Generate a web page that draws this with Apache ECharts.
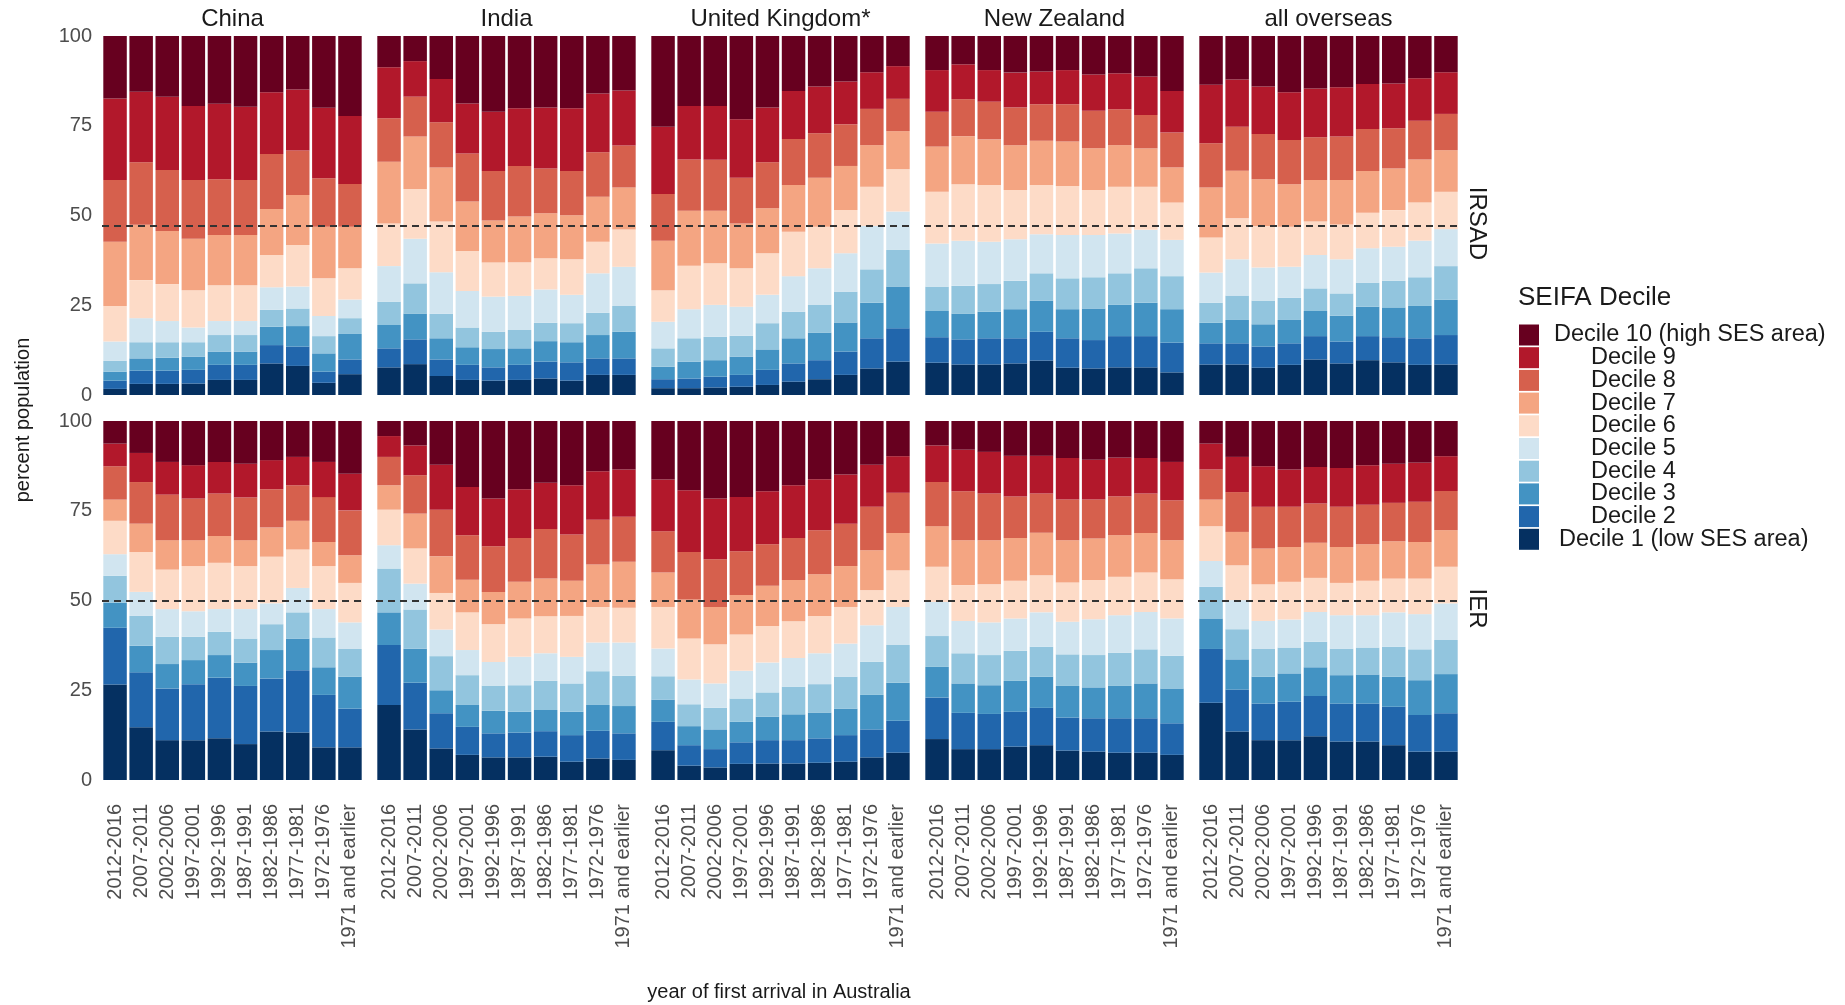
<!DOCTYPE html>
<html>
<head>
<meta charset="utf-8">
<script src="https://cdn.jsdelivr.net/npm/echarts@6/dist/echarts.min.js"></script>
<style>html,body{margin:0;padding:0;background:#fff;}#chart{width:1845px;height:1005px;}</style>
</head>
<body>
<div id="chart"></div>
<script>
// ---------- data (percent of population per SEIFA decile, columns = Decile 1..Decile 10) ----------
const categories = ['2012-2016','2007-2011','2002-2006','1997-2001','1992-1996','1987-1991','1982-1986','1977-1981','1972-1976','1971 and earlier'];
const countries = ['China','India','United Kingdom*','New Zealand','all overseas'];
const indexNames = ['IRSAD','IER'];
const deciles = ['Decile 1 (low SES area)','Decile 2','Decile 3','Decile 4','Decile 5','Decile 6','Decile 7','Decile 8','Decile 9','Decile 10 (high SES area)'];
const decileColors = ['#053061','#2166AC','#4393C3','#92C5DE','#D1E5F0','#FDDBC7','#F4A582','#D6604D','#B2182B','#67001F'];
const yTicks = [0, 25, 50, 75, 100];
const refLines = [47.2, 50]; // dashed reference line for IRSAD, IER

const IRSAD_China = [
 [1.7,2.3,2.5,3.0,5.4,9.9,17.9,17.2,22.7,17.4],
 [3.1,3.7,3.4,4.5,6.7,10.6,15.4,17.4,19.7,15.5],
 [3.1,3.7,3.6,4.3,5.9,10.3,14.8,17.0,20.4,16.9],
 [3.2,3.8,3.7,4.0,4.1,10.4,14.3,16.4,20.6,19.5],
 [4.2,4.2,3.7,4.6,3.9,10.0,14.0,15.5,21.0,18.9],
 [4.2,4.2,3.7,4.6,3.9,10.0,14.0,15.3,20.4,19.7],
 [8.8,5.1,5.1,4.7,6.3,9.0,12.8,15.3,17.2,15.7],
 [8.1,5.4,5.7,4.9,6.1,11.6,13.9,12.4,17.0,14.9],
 [3.4,3.1,5.1,4.8,5.6,10.5,14.4,13.5,19.6,20.0],
 [5.8,4.1,7.1,4.4,5.2,8.7,11.6,11.9,18.9,22.3]
];
const IRSAD_India = [
 [7.7,5.3,6.5,6.5,9.9,11.9,17.2,12.1,14.2,8.7],
 [8.6,6.9,7.2,8.4,12.4,13.9,14.6,11.1,9.9,7.0],
 [5.3,4.6,5.9,6.8,11.6,14.1,15.1,12.6,12.0,12.0],
 [4.2,4.2,4.9,5.5,10.2,11.1,13.8,13.4,13.9,18.8],
 [4.0,3.7,5.1,4.8,9.8,9.5,11.7,13.8,16.5,21.1],
 [4.2,4.2,4.6,5.1,9.5,9.4,12.7,14.1,16.1,20.1],
 [4.6,4.7,5.7,5.1,9.3,8.7,12.5,12.5,17.0,19.9],
 [4.0,5.1,5.6,5.3,7.9,9.9,12.3,12.3,17.5,20.1],
 [5.6,4.6,6.5,6.2,11.0,8.8,12.5,12.4,16.4,16.0],
 [5.6,4.6,7.4,7.2,10.9,10.4,11.7,11.7,15.3,15.2]
];
const IRSAD_UK = [
 [1.9,2.5,3.5,5.1,7.4,8.8,13.8,13.0,18.7,25.3],
 [1.9,2.7,4.7,6.5,8.1,12.1,15.3,14.3,14.9,19.5],
 [2.1,3.0,4.6,6.5,8.9,11.6,14.6,14.2,15.0,19.5],
 [2.3,3.3,5.1,5.8,8.1,10.7,12.5,12.7,16.3,23.2],
 [2.8,4.2,5.7,7.3,7.9,11.6,12.5,12.8,15.3,19.9],
 [3.7,5.1,7.0,7.4,9.9,12.4,13.0,12.8,13.4,15.3],
 [4.4,5.3,7.7,7.7,10.2,11.6,13.6,12.4,13.0,14.1],
 [5.6,6.5,8.1,8.6,10.7,12.0,12.3,11.6,11.9,12.7],
 [7.4,8.4,9.9,9.3,12.1,10.9,11.6,10.1,10.2,10.1],
 [9.3,9.3,11.6,10.2,10.7,11.8,10.6,9.0,9.1,8.4]
];
const IRSAD_NZ = [
 [9.0,7.1,7.3,6.8,12.0,14.4,12.6,9.7,11.6,9.5],
 [8.5,7.0,7.2,7.7,12.6,15.7,13.4,10.3,9.7,7.9],
 [8.5,7.3,7.4,7.7,11.8,15.8,12.7,10.5,8.8,9.5],
 [8.8,7.0,8.1,7.9,11.6,13.7,12.5,10.5,9.7,10.2],
 [9.6,8.0,8.7,7.6,10.9,13.7,12.3,10.2,9.1,9.9],
 [7.6,8.2,8.1,8.6,12.1,13.6,12.4,10.4,9.5,9.5],
 [7.4,7.9,8.8,8.7,11.8,12.5,11.6,10.5,10.1,10.7],
 [7.7,8.7,8.7,8.8,11.1,13.0,11.6,10.0,10.0,10.4],
 [7.7,8.7,9.3,9.6,10.7,12.0,10.7,9.3,10.7,11.3],
 [6.3,8.3,9.3,9.2,10.1,10.4,9.8,9.7,11.6,15.3]
];
const IRSAD_All = [
 [8.5,5.9,5.7,5.6,8.4,9.8,13.9,12.3,16.3,13.6],
 [8.5,5.9,6.5,6.8,10.1,11.4,13.3,12.2,13.2,12.1],
 [7.6,5.9,6.2,6.6,9.2,11.6,13.0,12.6,13.2,14.1],
 [8.4,6.0,6.5,6.2,8.6,11.2,11.8,12.3,13.3,15.7],
 [9.9,6.5,7.0,6.3,9.3,9.3,11.6,11.9,13.6,14.6],
 [8.8,6.1,7.2,6.2,9.5,9.7,12.4,12.1,13.7,14.3],
 [9.7,6.7,8.2,6.7,9.6,9.9,11.6,11.7,12.5,13.4],
 [9.1,7.0,8.3,7.4,9.5,10.2,11.6,11.2,12.5,13.2],
 [8.4,7.4,9.0,8.0,10.2,10.6,12.0,10.8,11.8,11.8],
 [8.5,8.2,9.8,9.4,10.3,10.4,11.6,10.1,11.6,10.1]
];
const IER_China = [
 [26.6,15.8,7.0,7.5,6.0,9.3,5.9,9.3,6.3,6.3],
 [14.7,15.3,7.4,8.3,6.7,11.1,7.9,11.6,8.1,8.9],
 [11.1,14.4,6.8,7.6,7.7,11.0,8.2,12.7,9.1,11.4],
 [11.1,15.6,6.7,6.5,7.1,12.6,7.2,11.6,9.3,12.3],
 [11.6,16.9,6.3,6.5,6.3,12.9,7.5,11.8,8.8,11.4],
 [10.0,16.2,6.5,6.7,8.2,12.0,7.2,11.9,9.4,11.9],
 [13.5,14.8,7.9,7.2,5.8,13.0,8.1,10.7,8.1,10.9],
 [13.2,17.4,8.8,7.3,6.8,10.7,8.0,9.9,7.9,10.0],
 [9.1,14.6,7.7,8.3,7.9,12.0,6.7,12.5,9.8,11.4],
 [9.1,10.8,8.9,7.7,7.4,11.0,7.7,12.5,10.2,14.7]
];
const IER_India = [
 [20.9,16.7,9.1,12.2,6.5,9.9,6.8,7.9,5.8,4.2],
 [14.1,13.0,9.5,10.9,7.2,9.8,9.7,10.7,8.3,6.8],
 [8.8,9.8,6.4,9.5,7.4,10.2,10.2,13.0,12.5,12.2],
 [7.0,7.8,6.1,8.3,7.0,10.5,9.1,12.4,13.4,18.4],
 [6.3,6.7,6.3,7.0,6.6,10.5,9.0,12.7,13.3,21.6],
 [6.3,6.9,5.8,7.4,7.9,10.7,10.2,12.2,13.6,19.0],
 [6.5,7.1,5.9,8.1,7.7,10.3,10.5,13.8,12.9,17.2],
 [5.1,7.4,6.5,7.9,7.4,11.4,9.8,12.9,13.7,17.9],
 [6.0,7.7,7.2,9.4,8.0,9.9,11.8,12.5,13.5,14.0],
 [5.6,7.4,7.6,8.4,9.3,9.7,12.8,12.5,13.2,13.5]
];
const IER_UK = [
 [8.3,7.9,6.2,6.5,7.7,11.6,9.6,11.5,14.4,16.3],
 [4.0,5.7,5.3,6.1,6.9,11.4,10.9,13.2,17.2,19.3],
 [3.5,5.1,5.5,6.0,6.8,10.9,10.4,13.3,16.9,21.6],
 [4.5,6.0,5.7,6.5,7.7,10.1,11.0,12.2,15.1,21.2],
 [4.6,6.5,6.5,6.8,8.3,10.2,11.2,11.6,14.7,19.6],
 [4.6,6.5,7.2,7.7,8.0,10.2,11.5,11.7,14.7,17.9],
 [4.8,6.8,7.2,7.9,8.6,10.4,11.6,12.3,14.2,16.2],
 [5.1,7.4,7.4,8.9,9.2,10.2,11.4,11.8,13.7,14.9],
 [6.3,7.8,9.6,9.2,10.2,9.8,11.1,12.1,11.7,12.2],
 [7.6,8.9,10.6,10.5,10.6,10.2,10.4,11.2,10.2,9.8]
];
const IER_NZ = [
 [11.4,11.6,8.5,8.6,9.5,9.8,11.3,12.3,10.2,6.8],
 [8.6,10.1,8.2,8.4,9.0,10.0,12.5,13.6,11.6,8.0],
 [8.6,9.8,8.0,8.4,9.1,10.6,12.3,13.0,11.6,8.6],
 [9.3,9.7,8.6,8.4,9.0,10.5,11.9,11.6,11.3,9.7],
 [9.7,10.4,8.7,8.3,9.6,10.3,11.9,10.9,10.5,9.7],
 [8.2,9.2,8.8,8.8,9.1,10.9,11.8,11.3,11.6,10.3],
 [7.9,9.3,8.6,9.0,10.0,10.9,11.6,10.8,11.1,10.8],
 [7.6,9.6,9.0,9.2,10.5,10.7,11.6,10.8,10.8,10.2],
 [7.6,9.6,9.7,9.5,10.4,11.0,11.0,11.0,9.9,10.3],
 [7.0,8.8,9.7,9.1,10.4,10.9,10.9,11.1,10.7,11.4]
];
const IER_All = [
 [21.5,15.0,8.5,8.8,7.2,9.7,7.4,8.4,7.2,6.3],
 [13.5,11.7,8.4,8.4,8.1,9.7,9.3,11.1,9.8,10.0],
 [11.1,10.2,7.5,7.7,7.8,10.2,10.0,11.6,11.3,12.6],
 [11.1,10.7,7.9,7.2,7.8,10.5,9.7,11.2,10.4,13.5],
 [12.2,11.2,8.0,7.1,8.3,9.5,9.8,10.9,10.2,12.8],
 [10.7,10.6,7.9,7.4,9.3,9.0,10.0,11.2,10.8,13.1],
 [10.7,10.6,8.1,7.5,9.0,9.6,10.2,11.0,11.0,12.3],
 [9.7,10.7,8.4,8.3,9.6,9.4,10.4,10.7,10.9,11.9],
 [7.9,10.2,9.7,8.6,9.8,9.9,10.2,11.2,10.9,11.6],
 [7.9,10.7,10.9,9.5,10.2,10.2,10.2,10.9,9.7,9.8]
];

const panels = [
  [IRSAD_China, IRSAD_India, IRSAD_UK, IRSAD_NZ, IRSAD_All],
  [IER_China, IER_India, IER_UK, IER_NZ, IER_All]
];

// ---------- layout ----------
const FONT = "'Liberation Sans', Arial, sans-serif";
const GRID_LEFT0 = 102, GRID_STEP = 274, GRID_W = 261, GRID_H = 359;
const GRID_TOPS = [36, 421];

const grids = [], xAxes = [], yAxes = [], series = [];
let g = 0;
for (let r = 0; r < 2; r++) {
  for (let c = 0; c < 5; c++) {
    grids.push({ left: GRID_LEFT0 + c * GRID_STEP, top: GRID_TOPS[r], width: GRID_W, height: GRID_H, containLabel: false });
    xAxes.push({
      type: 'category', gridIndex: g, data: categories,
      axisLine: { show: false }, axisTick: { show: false },
      axisLabel: { show: r === 1, rotate: 90, interval: 0, margin: 24, fontSize: 20, color: '#4d4d4d', fontFamily: FONT },
      splitLine: { show: false }
    });
    yAxes.push({
      type: 'value', gridIndex: g, min: yTicks[0], max: yTicks[yTicks.length - 1], interval: 25,
      axisLine: { show: false }, axisTick: { show: false },
      axisLabel: { show: c === 0, margin: 10, fontSize: 20, color: '#4d4d4d', fontFamily: FONT },
      splitLine: { show: false }
    });
    const panel = panels[r][c];
    for (let d = 0; d < 10; d++) {
      const s = {
        type: 'bar', name: deciles[d], stack: 'p' + g,
        xAxisIndex: g, yAxisIndex: g, barWidth: '90%',
        itemStyle: { color: decileColors[d] },
        data: panel.map(row => row[d]),
        silent: true
      };
      if (d === 9) {
        s.markLine = {
          silent: true, symbol: 'none', z: 10,
          label: { show: false },
          lineStyle: { type: [7, 5], color: '#333333', width: 2 },
          data: [{ yAxis: refLines[r] }]
        };
      }
      series.push(s);
    }
    g++;
  }
}

// ---------- texts ----------
const graphics = [];
countries.forEach((name, c) => {
  graphics.push({
    type: 'text', x: GRID_LEFT0 + c * GRID_STEP + GRID_W / 2, y: 19,
    style: { text: name, font: '24px ' + FONT, fill: '#1a1a1a', textAlign: 'center', textVerticalAlign: 'middle', align: 'center', verticalAlign: 'middle' }
  });
});
indexNames.forEach((name, r) => {
  graphics.push({
    type: 'text', x: 1477, y: GRID_TOPS[r] + GRID_H / 2 + 8, rotation: -Math.PI / 2,
    style: { text: name, font: '24px ' + FONT, fill: '#1a1a1a', textAlign: 'center', textVerticalAlign: 'middle', align: 'center', verticalAlign: 'middle' }
  });
});
graphics.push({
  type: 'text', x: 23, y: 420, rotation: Math.PI / 2,
  style: { text: 'percent population', font: '20px ' + FONT, fill: '#1a1a1a', textAlign: 'center', textVerticalAlign: 'middle', align: 'center', verticalAlign: 'middle' }
});
graphics.push({
  type: 'text', x: 779, y: 992,
  style: { text: 'year of first arrival in Australia', font: '20px ' + FONT, fill: '#1a1a1a', textAlign: 'center', textVerticalAlign: 'middle', align: 'center', verticalAlign: 'middle' }
});
graphics.push({
  type: 'text', x: 1518, y: 298,
  style: { text: 'SEIFA Decile', font: '26px ' + FONT, fill: '#1a1a1a', textAlign: 'left', textVerticalAlign: 'middle', align: 'left', verticalAlign: 'middle' }
});

const richBase = { fontSize: 23.5, lineHeight: 21, color: '#1a1a1a', fontFamily: FONT };
const option = {
  backgroundColor: '#ffffff',
  animation: false,
  grid: grids, xAxis: xAxes, yAxis: yAxes, series: series,
  legend: {
    orient: 'vertical', left: 1519, top: 323, padding: 0,
    itemWidth: 20, itemHeight: 21, itemGap: -1.3, icon: 'rect',
    selectedMode: false,
    data: deciles.slice().reverse(),
    formatter: function (n) {
      const k = n.indexOf('Decile 10') === 0 ? 'a' : (n.indexOf('Decile 1 ') === 0 ? 'c' : 'b');
      return '{' + k + '|' + n + '}';
    },
    textStyle: {
      fontSize: 23.5, lineHeight: 21, color: '#1a1a1a', fontFamily: FONT,
      rich: {
        a: Object.assign({ padding: [0, 0, 0, 10] }, richBase),
        b: Object.assign({ padding: [0, 0, 0, 47] }, richBase),
        c: Object.assign({ padding: [0, 0, 0, 15] }, richBase)
      }
    }
  },
  graphic: { elements: graphics }
};

const chart = echarts.init(document.getElementById('chart'), null, { renderer: 'canvas' });
chart.setOption(option);
</script>
</body>
</html>
